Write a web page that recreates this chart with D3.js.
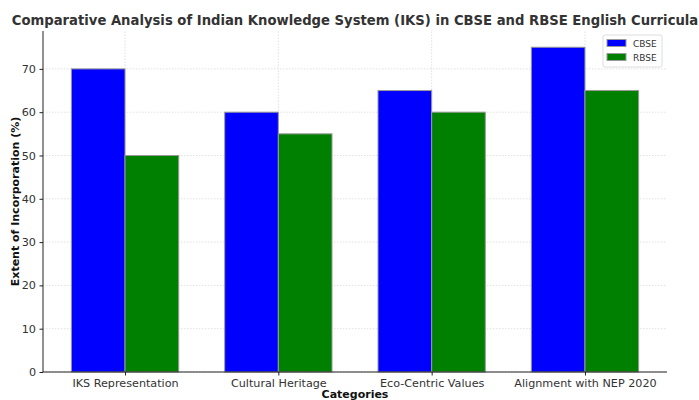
<!DOCTYPE html>
<html><head><meta charset="utf-8">
<script src="https://cdn.jsdelivr.net/npm/d3@7"></script>
<style>body{margin:0;background:#fff}svg{display:block}</style>
</head><body>
<svg id="chart" width="699" height="400"></svg>
<script>
const categories = ["IKS Representation", "Cultural Heritage", "Eco-Centric Values", "Alignment with NEP 2020"];
const cbse = [70, 60, 65, 75];
const rbse = [50, 55, 60, 65];
const seriesNames = ["CBSE", "RBSE"];
const seriesColors = ["#0000ff", "#008000"];
const yTicks = [0, 10, 20, 30, 40, 50, 60, 70];

const svg = d3.select("#chart");
const W = 699, H = 400;
const m = {l: 43, r: 32, t: 31, b: 28};
const x0 = m.l, x1 = W - m.r, y0 = H - m.b, y1 = m.t;
const barW = 0.35;
const x = d3.scaleLinear().domain([-0.535, 3.535]).range([x0, x1]);
const y = d3.scaleLinear().domain([0, 78.75]).range([y0, y1]);
const font = "DejaVu Sans, sans-serif";
const txt = "#333";

// grid
const g = svg.append("g");
g.selectAll(".hg").data(yTicks).join("line")
  .attr("x1", x0).attr("x2", x1).attr("y1", d => y(d)).attr("y2", d => y(d))
  .attr("stroke", "#d4d4d4").attr("stroke-width", 0.7).attr("stroke-dasharray", "1.5,1.5");
g.selectAll(".vg").data(categories).join("line")
  .attr("x1", (d, i) => x(i)).attr("x2", (d, i) => x(i)).attr("y1", y0).attr("y2", y1)
  .attr("stroke", "#d4d4d4").attr("stroke-width", 0.7).attr("stroke-dasharray", "1.5,1.5");

// bars
const series = [cbse, rbse];
series.forEach((vals, s) => {
  svg.append("g").selectAll("rect").data(vals).join("rect")
    .attr("x", (d, i) => x(i + (s === 0 ? -barW : 0)))
    .attr("width", x(barW) - x(0))
    .attr("y", d => y(d))
    .attr("height", d => y(0) - y(d))
    .attr("fill", seriesColors[s])
    .attr("stroke", "#999").attr("stroke-width", 1);
});

// axes
const ya = svg.append("g").attr("transform", `translate(${x0},0)`)
  .call(d3.axisLeft(y).tickValues(yTicks).tickSize(3.5).tickPadding(3.5));
const xa = svg.append("g").attr("transform", `translate(0,${y0})`)
  .call(d3.axisBottom(x).tickValues(d3.range(categories.length)).tickFormat(i => categories[i]).tickSize(3.5).tickPadding(3.5));
[ya, xa].forEach(a => {
  a.select(".domain").attr("stroke", "#222").attr("stroke-width", 1);
  a.selectAll(".tick line").attr("stroke", "#222");
  a.selectAll(".tick text").attr("fill", txt).attr("font-family", font).attr("font-size", "11.2px");
});
xa.select(".domain").attr("d", `M${x0},0H${x1}`);
ya.select(".domain").attr("d", `M0,${y0}V${y1}`);

// title
svg.append("text").attr("x", (x0 + x1) / 2).attr("y", 25).attr("text-anchor", "middle")
  .attr("font-family", font).attr("font-weight", "bold").attr("font-size", "13.2px").attr("fill", txt)
  .text("Comparative Analysis of Indian Knowledge System (IKS) in CBSE and RBSE English Curricula");
svg.append("text").attr("x", (x0 + x1) / 2).attr("y", 398).attr("text-anchor", "middle")
  .attr("font-family", font).attr("font-weight", "bold").attr("font-size", "11px").attr("fill", "#111")
  .text("Categories");
svg.append("text").attr("transform", `translate(19,${(y0 + y1) / 2}) rotate(-90)`).attr("text-anchor", "middle")
  .attr("font-family", font).attr("font-weight", "bold").attr("font-size", "11px").attr("fill", "#111")
  .text("Extent of Incorporation (%)");

// legend
const lg = svg.append("g").attr("transform", "translate(603,35)");
lg.append("rect").attr("width", 59).attr("height", 32).attr("rx", 2)
  .attr("fill", "#fff").attr("fill-opacity", 0.8).attr("stroke", "#ddd");
seriesNames.forEach((n, i) => {
  lg.append("rect").attr("x", 4).attr("y", 4.5 + i * 14).attr("width", 19).attr("height", 7)
    .attr("fill", seriesColors[i]).attr("stroke", "#999");
  lg.append("text").attr("x", 30).attr("y", 11.5 + i * 14)
    .attr("font-family", font).attr("font-size", "9px").attr("fill", txt).text(n);
});
</script>
</body></html>
